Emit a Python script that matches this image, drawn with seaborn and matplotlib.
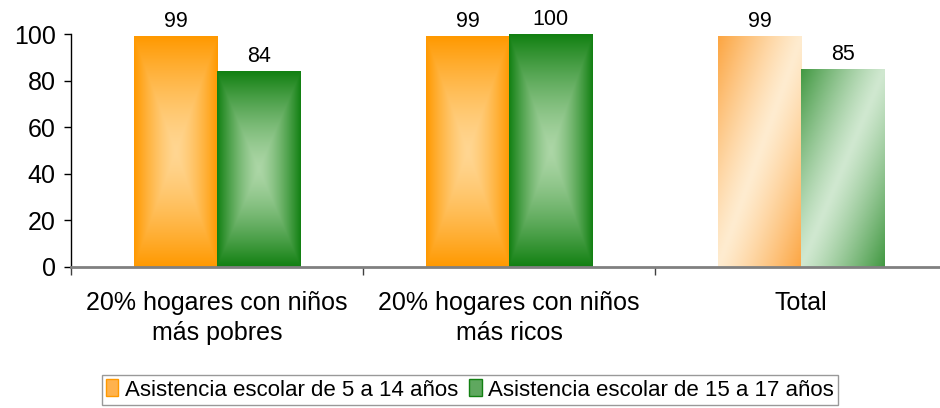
import numpy as np
import pandas as pd
import matplotlib
matplotlib.use("Agg")
import matplotlib.pyplot as plt
import seaborn as sns
from matplotlib.patches import Rectangle

categories = ["20% hogares con niños\nmás pobres", "20% hogares con niños\nmás ricos", "Total"]
series = ["Asistencia escolar de 5 a 14 años", "Asistencia escolar de 15 a 17 años"]
values_5_14 = [99, 99, 99]
values_15_17 = [84, 100, 85]
yticks = [0, 20, 40, 60, 80, 100]

df = pd.DataFrame({
    "categoria": categories * 2,
    "serie": [series[0]] * 3 + [series[1]] * 3,
    "valor": values_5_14 + values_15_17,
})

sns.set_theme(style="white")
plt.rcParams["font.family"] = ["Liberation Sans", "DejaVu Sans"]
plt.rcParams["text.color"] = "black"
plt.rcParams["xtick.color"] = "black"
plt.rcParams["ytick.color"] = "black"

fig = plt.figure(figsize=(9.4, 4.08), dpi=100)
ax = fig.add_axes([71 / 940, 1 - 267 / 408, 876 / 940, (267 - 34) / 408])

palette = {series[0]: "#FF9900", series[1]: "#128012"}
sns.barplot(data=df, x="categoria", y="valor", hue="serie", order=categories,
            hue_order=series, palette=palette, width=0.57, saturation=1,
            legend=False, ax=ax, errorbar=None)

# gradient styling
edge_cols = [np.array([255, 153, 0]), np.array([18, 128, 18])]
center_cols = [np.array([255, 214, 146]), np.array([172, 214, 166])]
diag_dark = [np.array([252, 165, 65]), np.array([65, 152, 65])]
diag_light = [np.array([255, 236, 208]), np.array([208, 232, 208])]
styles = ["rect", "rect", "diag"]

n = 200
uu, vv = np.meshgrid(np.linspace(0, 1, n), np.linspace(0, 1, n))
for si, cont in enumerate(ax.containers):
    for ci, patch in enumerate(cont.patches):
        x0, y0 = patch.get_x(), patch.get_y()
        w, h = patch.get_width(), patch.get_height()
        if styles[ci] == "rect":
            t = np.maximum(np.abs(uu - 0.5), np.abs(vv - 0.5)) * 2
            t = t ** 1.4
            img = center_cols[si] + (edge_cols[si] - center_cols[si]) * t[..., None]
        else:
            s = (uu + vv) / 2
            t = np.abs(s - 0.5) * 2
            t = t ** 1.2
            img = diag_light[si] + (diag_dark[si] - diag_light[si]) * t[..., None]
        im = ax.imshow(img / 255.0, extent=(x0, x0 + w, y0, y0 + h), origin="upper",
                       aspect="auto", zorder=patch.get_zorder() + 0.1, interpolation="bilinear")
        im.set_clip_path(patch)
        patch.set_edgecolor("none")
    ax.bar_label(cont, labels=[str(v) for v in (values_5_14 if si == 0 else values_15_17)],
                 padding=3, fontsize=15.5, color="black")

ax.set_xlim(-0.5, 2.5)
ax.set_ylim(0, 100)
ax.set_yticks(yticks)
ax.set_yticklabels([str(v) for v in yticks], fontsize=18)
ax.set_xticks([-0.5, 0.5, 1.5, 2.5])
ax.set_xticklabels([])
ax.set_xticks([0, 1, 2], minor=True)
ax.set_xticklabels(categories, minor=True, fontsize=18, linespacing=1.35)
ax.tick_params(axis="x", which="major", direction="out", length=6, width=1, color="#404040", bottom=True)
ax.tick_params(axis="x", which="minor", length=0, pad=17)
ax.tick_params(axis="y", direction="out", length=5, width=1, color="black", left=True, pad=6)
ax.set_xlabel("")
ax.set_ylabel("")
for side in ["top", "right"]:
    ax.spines[side].set_visible(False)
ax.spines["left"].set_color("black")
ax.spines["left"].set_linewidth(1)
ax.spines["bottom"].set_color("#808080")
ax.spines["bottom"].set_linewidth(2)
ax.spines["bottom"].set_zorder(5)

handles = [Rectangle((0, 0), 1, 1, facecolor="#FFB24D", edgecolor="#FF9900", lw=1),
           Rectangle((0, 0), 1, 1, facecolor="#5FA85F", edgecolor="#128012", lw=1)]
leg = fig.legend(handles, series, loc="upper center", bbox_to_anchor=(0.5, 1 - 375 / 408),
                 ncol=2, fontsize=16, frameon=True, fancybox=False, borderpad=0.2,
                 handlelength=0.55, handleheight=0.8, handletextpad=0.3, columnspacing=0.5,
                 borderaxespad=0)
leg.get_frame().set_edgecolor("#808080")
leg.get_frame().set_linewidth(1)

fig.savefig("out.png", dpi=100)
